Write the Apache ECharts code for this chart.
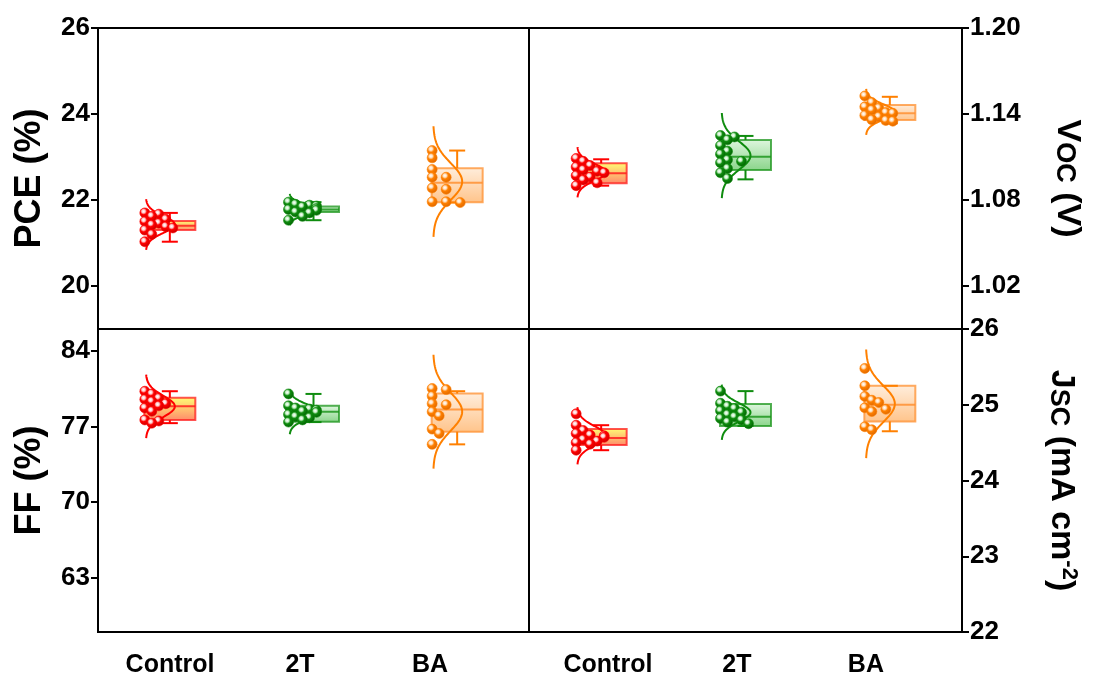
<!DOCTYPE html>
<html><head><meta charset="utf-8">
<script src="https://cdn.jsdelivr.net/npm/echarts@6/dist/echarts.min.js"></script>
<style>html,body{margin:0;padding:0;background:#fff}#c{width:1094px;height:680px}</style>
</head><body><div id="c"></div>
<script>
const categories = ['Control', '2T', 'BA'];

// tick labels
const pceTicks = [20, 22, 24, 26];
const vocTicks = [1.02, 1.08, 1.14, 1.20];
const ffTicks = [63, 70, 77, 84];
const jscTicks = [22, 23, 24, 25, 26];

// PCE (%)
const pceControl = [21.70, 21.67, 21.62, 21.55, 21.50, 21.46, 21.42, 21.38, 21.35, 21.30, 21.20, 21.03];
const pce2T = [21.95, 21.90, 21.88, 21.86, 21.84, 21.80, 21.78, 21.76, 21.72, 21.70, 21.62, 21.53];
const pceBA = [23.15, 22.98, 22.71, 22.53, 22.53, 22.28, 22.25, 21.96, 21.96, 21.94];
const pceQ1 = [21.30, 21.72, 21.95];
const pceMedian = [21.40, 21.78, 22.40];
const pceQ3 = [21.51, 21.85, 22.74];
const pceMin = [21.03, 21.53, 21.94];
const pceMax = [21.70, 21.95, 23.15];

// VOC (V)
const vocControl = [1.109, 1.107, 1.104, 1.103, 1.101, 1.100, 1.099, 1.097, 1.096, 1.094, 1.092, 1.090];
const voc2T = [1.125, 1.124, 1.122, 1.118, 1.114, 1.112, 1.108, 1.107, 1.106, 1.102, 1.099, 1.095];
const vocBA = [1.1526, 1.148, 1.145, 1.144, 1.1428, 1.141, 1.1405, 1.139, 1.138, 1.136, 1.1355, 1.135];
const vocQ1 = [1.0917, 1.1009, 1.1358];
const vocMedian = [1.0986, 1.1102, 1.1405];
const vocQ3 = [1.1056, 1.1219, 1.1463];
const vocMin = [1.090, 1.0944, 1.1335];
const vocMax = [1.1084, 1.1247, 1.152];

// FF (%)
const ffControl = [80.25, 80.0, 79.6, 79.5, 79.3, 79.1, 78.9, 78.7, 78.4, 77.6, 77.5, 77.3];
const ff2T = [80.0, 78.9, 78.7, 78.6, 78.5, 78.4, 78.3, 78.1, 77.9, 77.8, 77.6, 77.4];
const ffBA = [80.5, 80.4, 79.8, 79.1, 79.0, 78.35, 77.98, 76.75, 76.35, 75.34];
const ffQ1 = [77.58, 77.43, 76.51];
const ffMedian = [78.87, 78.35, 78.57];
const ffQ3 = [79.64, 78.90, 80.04];
const ffMin = [77.30, 77.40, 75.34];
const ffMax = [80.25, 80.0, 80.25];

// JSC (mA cm-2)
const jscControl = [24.88, 24.73, 24.66, 24.62, 24.60, 24.59, 24.57, 24.54, 24.52, 24.50, 24.48, 24.40];
const jsc2T = [25.18, 25.02, 24.98, 24.95, 24.92, 24.90, 24.87, 24.84, 24.82, 24.80, 24.77, 24.75];
const jscBA = [25.48, 25.25, 25.11, 25.06, 25.03, 24.96, 24.94, 24.91, 24.71, 24.67];
const jscQ1 = [24.47, 24.72, 24.78];
const jscMedian = [24.56, 24.84, 25.00];
const jscQ3 = [24.68, 25.01, 25.25];
const jscMin = [24.40, 24.72, 24.65];
const jscMax = [24.73, 25.18, 25.25];

const FONT = 'Liberation Sans, Arial, sans-serif';
const STYLES = [
  { line: '#ff0000', hi: '#ffd0d0', dark: '#c00000', box: ['#ffff66', '#ff7a5a'], edge: 'rgba(255,30,30,0.85)' },
  { line: '#0f8c0f', hi: '#c8f0c8', dark: '#005a00', box: ['#dcf6dc', '#7ccf7c'], edge: 'rgba(30,150,30,0.85)' },
  { line: '#ff8000', hi: '#ffe0c0', dark: '#d96400', box: ['#ffecd9', '#ffbd7d'], edge: 'rgba(255,145,50,0.85)' }
];

function meanSd(arr) {
  const m = arr.reduce((a, b) => a + b, 0) / arr.length;
  const v = arr.reduce((a, b) => a + (b - m) * (b - m), 0) / (arr.length - 1);
  return [m, Math.sqrt(v)];
}

function makeSeries(axisIdx, groups, q1, med, q3, lo, hi) {
  const data = categories.map((c, i) => [i + 1, q1[i], med[i], q3[i], lo[i], hi[i]]);
  return {
    type: 'custom', xAxisIndex: axisIdx, yAxisIndex: axisIdx, data: data, clip: false,
    encode: { x: 0, y: [1, 2, 3, 4, 5] },
    renderItem(params, api) {
      const i = params.dataIndex;
      const cx = api.value(0);
      const X = api.coord([cx, api.value(2)])[0];
      const Y = v => api.coord([cx, v])[1];
      const st = STYLES[i];
      const halfW = 25.5, capW = 8;
      const yq1 = Y(api.value(1)), ymed = Y(api.value(2)), yq3 = Y(api.value(3));
      const ylo = Y(api.value(4)), yhi = Y(api.value(5));
      const ch = [];
      ch.push({ type: 'rect', shape: { x: X - halfW, y: yq3, width: 2 * halfW, height: yq1 - yq3 },
        style: { fill: new echarts.graphic.LinearGradient(0, 0, 0, 1, [{ offset: 0, color: st.box[0] }, { offset: 1, color: st.box[1] }]),
          stroke: st.edge, lineWidth: 2, opacity: 0.9 } });
      ch.push({ type: 'line', shape: { x1: X - halfW, y1: ymed, x2: X + halfW, y2: ymed }, style: { stroke: st.edge, lineWidth: 2 } });
      ch.push({ type: 'line', shape: { x1: X, y1: yq3, x2: X, y2: yhi }, style: { stroke: st.line, lineWidth: 2 } });
      ch.push({ type: 'line', shape: { x1: X - capW, y1: yhi, x2: X + capW, y2: yhi }, style: { stroke: st.line, lineWidth: 2 } });
      ch.push({ type: 'line', shape: { x1: X, y1: yq1, x2: X, y2: ylo }, style: { stroke: st.line, lineWidth: 2 } });
      ch.push({ type: 'line', shape: { x1: X - capW, y1: ylo, x2: X + capW, y2: ylo }, style: { stroke: st.line, lineWidth: 2 } });
      // normal distribution curve
      const pts = groups[i];
      const [m, sd] = meanSd(pts);
      const base = X - 24, amp = 29;
      const poly = [];
      for (let k = 0; k <= 80; k++) {
        const t = -3 + 6 * k / 80;
        poly.push([base + amp * Math.exp(-t * t / 2), Y(m + t * sd)]);
      }
      ch.push({ type: 'polyline', shape: { points: poly }, style: { stroke: st.line, lineWidth: 2, fill: null } });
      // beeswarm-ish points (overlap allowed)
      const r = 5, minD = 7.2, step = 7, left = X - 25;
      const placed = [];
      const sorted = pts.slice().sort((a, b) => b - a);
      sorted.forEach(v => {
        const py = Y(v);
        let k = 0, px;
        while (true) {
          px = left + k * step;
          const ok = placed.every(p => Math.hypot(p[0] - px, p[1] - py) >= minD);
          if (ok || k >= 4) break;
          k++;
        }
        placed.push([px, py]);
      });
      placed.forEach(p => {
        ch.push({ type: 'circle', shape: { cx: p[0], cy: p[1], r: r },
          style: { fill: new echarts.graphic.RadialGradient(0.38, 0.35, 0.7, [
            { offset: 0, color: '#ffffff' }, { offset: 0.22, color: st.hi }, { offset: 0.45, color: st.line }, { offset: 1, color: st.dark }]),
            stroke: st.line, lineWidth: 0.6 } });
      });
      return { type: 'group', children: ch };
    }
  };
}

const gridCommon = { show: true, borderColor: '#000', borderWidth: 2, backgroundColor: 'transparent', containLabel: false, outerBoundsMode: 'none' };
const grids = [
  Object.assign({ left: 98, top: 28, width: 431, height: 301 }, gridCommon),
  Object.assign({ left: 529, top: 28, width: 433, height: 301 }, gridCommon),
  Object.assign({ left: 98, top: 329, width: 431, height: 303 }, gridCommon),
  Object.assign({ left: 529, top: 329, width: 433, height: 303 }, gridCommon)
];

const dataX = [0, 1, 2, 3].map(g => ({ type: 'value', gridIndex: g, min: 0.5, max: 3.5, show: false }));
const labelX = (g, mn, mx) => ({
  type: 'value', gridIndex: g, min: mn, max: mx, position: 'bottom',
  axisLine: { show: false }, axisTick: { show: false }, splitLine: { show: false },
  axisLabel: { customValues: [1, 2, 3], formatter: v => categories[Math.round(v) - 1], margin: 21,
    fontFamily: FONT, fontWeight: 'bold', fontSize: 25, color: '#000' }
});

const nameStyle = { fontFamily: FONT, fontWeight: 'bold', fontSize: 36, color: '#000' };
const yAx = (g, pos, mn, mx, ticks, fmt, name, gap, rot, rich) => ({
  type: 'value', gridIndex: g, position: pos, min: mn, max: mx,
  axisLine: { show: true, lineStyle: { color: '#000', width: 2 } },
  axisTick: { show: true, inside: false, length: 7, customValues: ticks, lineStyle: { color: '#000', width: 2 } },
  splitLine: { show: false },
  axisLabel: { customValues: ticks, formatter: fmt, margin: 8, fontFamily: FONT, fontWeight: 'bold', fontSize: 26, color: '#000' },
  name: name, nameLocation: 'middle', nameGap: gap, nameRotate: rot,
  nameTextStyle: Object.assign({}, nameStyle, rich ? { rich: rich } : {})
});

const subRich = {
  a: { fontFamily: FONT, fontWeight: 'bold', fontSize: 34, color: '#000' },
  b: { fontFamily: FONT, fontWeight: 'bold', fontSize: 27, color: '#000', padding: [6, 0, 0, 0] },
  c: { fontFamily: FONT, fontWeight: 'bold', fontSize: 22, color: '#000', padding: [0, 0, 16, 0] }
};

const option = {
  animation: false,
  backgroundColor: '#fff',
  grid: grids,
  xAxis: dataX.concat([labelX(2, 0.446, 3.761), labelX(3, 0.388, 3.745)]),
  yAxis: [
    yAx(0, 'left', 19, 26, pceTicks, v => String(v), 'PCE (%)', 50, 90),
    yAx(1, 'right', 0.99, 1.20, vocTicks, v => v.toFixed(2), '{a|V}{b|OC}{a| (V)}', 88, -90, subRich),
    yAx(2, 'left', 58, 86, ffTicks, v => String(v), 'FF (%)', 50, 90),
    yAx(3, 'right', 22, 26, jscTicks, v => String(v), '{a|J}{b|SC}{a| (mA cm}{c|-2}{a|)}', 80, -90, subRich)
  ],
  series: [
    makeSeries(0, [pceControl, pce2T, pceBA], pceQ1, pceMedian, pceQ3, pceMin, pceMax),
    makeSeries(1, [vocControl, voc2T, vocBA], vocQ1, vocMedian, vocQ3, vocMin, vocMax),
    makeSeries(2, [ffControl, ff2T, ffBA], ffQ1, ffMedian, ffQ3, ffMin, ffMax),
    makeSeries(3, [jscControl, jsc2T, jscBA], jscQ1, jscMedian, jscQ3, jscMin, jscMax)
  ]
};

const chart = echarts.init(document.getElementById('c'));
chart.setOption(option);
</script>
</body></html>
